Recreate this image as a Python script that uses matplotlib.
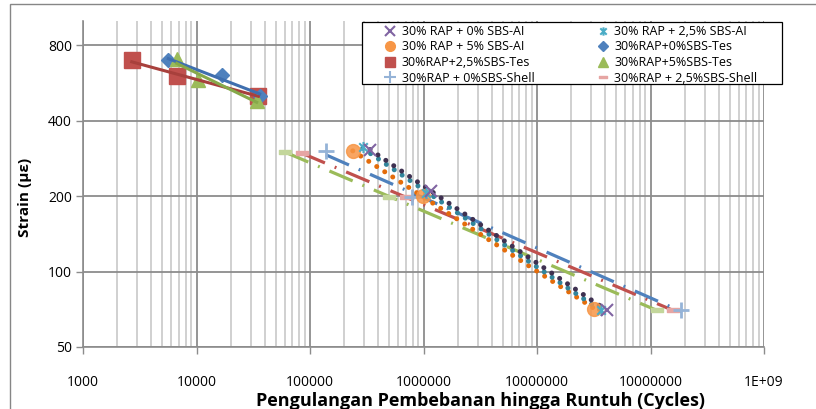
import numpy as np
import matplotlib
matplotlib.use('Agg')
import matplotlib.pyplot as plt
from matplotlib.path import Path
from matplotlib.patches import Rectangle
from matplotlib.lines import Line2D
from matplotlib.ticker import FixedLocator, LogLocator, NullLocator, NullFormatter

plt.rcParams['font.family'] = ['Open Sans', 'DejaVu Sans']

# data (cycles, strain in micro-strain)
ai0_x = [338000, 1170000, 41000000]
ai0_y = [306, 210, 70]
ai25_x = [291000, 1050000, 37000000]
ai25_y = [315, 205, 70]
ai5_x = [238000, 990000, 32000000]
ai5_y = [302, 200, 71]
tes0_x = [5650, 16700, 36000]
tes0_y = [696, 609, 500]
tes25_x = [2690, 6700, 35100]
tes25_y = [696, 602, 504]
tes5_x = [6700, 10400, 33900]
tes5_y = [705, 582, 481]
sh0_x = [138000, 785000, 187000000]
sh0_y = [302, 198, 70]
sh25_x = [84500, 700000, 158000000]
sh25_y = [297, 198, 70]
sh5_x = [60300, 500000, 114000000]
sh5_y = [300, 199, 70]

x_ticks = [1e3, 1e4, 1e5, 1e6, 1e7, 1e8, 1e9]
x_labels = ['1000', '10000', '100000', '1000000', '10000000', '10000000', '1E+09']
y_ticks = [50, 100, 200, 400, 800]
y_labels = ['50', '100', '200', '400', '800']

labels = ['30% RAP + 0% SBS-AI', '30% RAP + 2,5% SBS-AI', '30% RAP + 5% SBS-AI',
          '30%RAP+0%SBS-Tes', '30%RAP+2,5%SBS-Tes', '30%RAP+5%SBS-Tes',
          '30%RAP + 0%SBS-Shell', '30%RAP + 2,5%SBS-Shell']


def trend(x, y):
    # power trendline like excel (straight line in log-log)
    k, b = np.polyfit(np.log10(x), np.log10(y), 1)
    xs = np.logspace(np.log10(min(x)), np.log10(max(x)), 60)
    return xs, 10 ** (b + k * np.log10(xs))


star = Path([(-1, -1), (1, 1), (-1, 1), (1, -1), (0, -1.3), (0, 1.3)],
            [Path.MOVETO, Path.LINETO] * 3)
dash = Path([(-1, -0.3), (1, -0.3), (1, 0.3), (-1, 0.3), (-1, -0.3)],
            [Path.MOVETO, Path.LINETO, Path.LINETO, Path.LINETO, Path.CLOSEPOLY])

fig = plt.figure(figsize=(8.16, 4.09), dpi=100)
ax = fig.add_axes([83 / 816, 1 - 347 / 409, 681 / 816, 326 / 409])
ax.set_xscale('log')
ax.set_yscale('log', base=2)

dotted = (0, (0.01, 1.9))
dashdot = (0, (7.9, 3.3, 0.6, 3.3))

# Shell series: dash-dot trendlines
ax.plot(*trend(sh5_x, sh5_y), color='#9BBB59', lw=2.3, linestyle=dashdot, zorder=3)
ax.plot(*trend(sh25_x, sh25_y), color='#C0504D', lw=2.3, linestyle=dashdot, zorder=3)
ax.plot(*trend(sh0_x, sh0_y), color='#4F81BD', lw=2.3, linestyle=dashdot, zorder=3)
ax.plot(sh5_x, sh5_y, linestyle='none', marker=dash, ms=9, color='#C3D69B', mec='#C3D69B', zorder=4)
ax.plot(sh25_x, sh25_y, linestyle='none', marker=dash, ms=9, color='#E6A5A3', mec='#E6A5A3', zorder=4)
ax.plot(sh0_x, sh0_y, linestyle='none', marker='+', ms=11, mew=2, color='#95B3D7', zorder=4)

# AI series: round dotted trendlines
ax.plot(*trend(ai5_x, ai5_y), color='#E46C0A', lw=3.6, linestyle=dotted, dash_capstyle='round', zorder=5)
ax.plot(*trend(ai25_x, ai25_y), color='#31859C', lw=3.6, linestyle=dotted, dash_capstyle='round', zorder=5)
ax.plot(*trend(ai0_x, ai0_y), color='#3F3151', lw=3.6, linestyle=dotted, dash_capstyle='round', zorder=5)
ax.plot(ai5_x, ai5_y, linestyle='none', marker='o', ms=10, color='#F79646', alpha=0.85, zorder=6)
ax.plot(ai25_x, ai25_y, linestyle='none', marker=star, ms=8, mew=1.5, color='#4BACC6', zorder=6)
ax.plot(ai0_x, ai0_y, linestyle='none', marker='x', ms=8, mew=1.5, color='#8064A2', zorder=6)

# Tes series: solid trendlines
ax.plot(tes25_x, tes25_y, linestyle='none', marker='s', ms=11, color='#C0504D', zorder=4)
ax.plot(tes0_x, tes0_y, linestyle='none', marker='D', ms=7.5, color='#4F81BD', zorder=4)
ax.plot(tes5_x, tes5_y, linestyle='none', marker='^', ms=10, color='#9BBB59', zorder=4)
ax.plot(*trend(tes25_x, tes25_y), color='#A8403C', lw=2.2, zorder=5)
ax.plot(*trend(tes0_x, tes0_y), color='#3F6FAF', lw=2.2, zorder=5)
ax.plot(*trend(tes5_x, tes5_y), color='#86A94A', lw=2.2, zorder=5)

ax.set_xlim(1e3, 1e9)
ax.set_ylim(50, 1000)
ax.xaxis.set_major_locator(FixedLocator(x_ticks))
ax.set_xticklabels(x_labels)
ax.xaxis.set_minor_locator(LogLocator(base=10, subs=range(2, 10), numticks=20))
ax.xaxis.set_minor_formatter(NullFormatter())
ax.yaxis.set_major_locator(FixedLocator(y_ticks))
ax.set_yticklabels(y_labels)
ax.yaxis.set_minor_locator(NullLocator())

ax.grid(which='major', color='#8C8C8C', lw=1.3)
ax.grid(which='minor', axis='x', color='#C4C4C4', lw=1.1)
ax.set_axisbelow(True)
for s in ['top', 'right']:
    ax.spines[s].set_visible(False)
for s in ['left', 'bottom']:
    ax.spines[s].set_color('#8C8C8C')
    ax.spines[s].set_linewidth(1.2)
ax.tick_params(axis='x', which='major', length=5, width=1, color='#8C8C8C', pad=15, labelsize=10)
ax.tick_params(axis='x', which='minor', length=0)
ax.tick_params(axis='y', length=5, width=1, color='#8C8C8C', pad=3, labelsize=10)

ax.set_xlabel('Pengulangan Pembebanan hingga Runtuh (Cycles)', fontsize=13, fontweight='bold')
ax.xaxis.set_label_coords(0.583, -0.165)
ax.xaxis.label.set_va('center')
ax.set_ylabel('Strain (µε)', fontsize=11, fontweight='bold')
ax.yaxis.set_label_coords(-0.085, 0.46)
ax.yaxis.label.set_va('center')

# legend (excel style box, row-wise order)
mk = [dict(marker='x', ms=7, mew=1.5, color='#8064A2'),
      dict(marker=star, ms=6, mew=1.5, color='#4BACC6'),
      dict(marker='o', ms=7, color='#F79646'),
      dict(marker='D', ms=5, color='#4F81BD'),
      dict(marker='s', ms=7, color='#C0504D'),
      dict(marker='^', ms=7, color='#9BBB59'),
      dict(marker='+', ms=8, mew=1.5, color='#95B3D7'),
      dict(marker=dash, ms=6, color='#E6A5A3', mec='#E6A5A3')]
handles = [Line2D([], [], linestyle='none', **m) for m in mk]
order = [0, 2, 4, 6, 1, 3, 5, 7]
fig.patches.append(Rectangle((362 / 816, 1 - 84 / 409), 420 / 816, 62 / 409,
                             transform=fig.transFigure, facecolor='white',
                             edgecolor='black', lw=0.9, zorder=3))
fig.legend([handles[i] for i in order], [labels[i] for i in order], ncol=2,
           loc='upper left', bbox_to_anchor=(384 / 816, 1 - 25 / 409),
           frameon=False, fontsize=9, handlelength=1, handletextpad=0.4,
           columnspacing=5.0, labelspacing=0.2, borderpad=0, borderaxespad=0)

# outer chart border
fig.patches.append(Rectangle((10 / 816, -0.1), 1.2, 1.1 - 4 / 409, transform=fig.transFigure,
                             fill=False, edgecolor='#868686', lw=1.0, zorder=0))

fig.savefig('out.png', dpi=100)
